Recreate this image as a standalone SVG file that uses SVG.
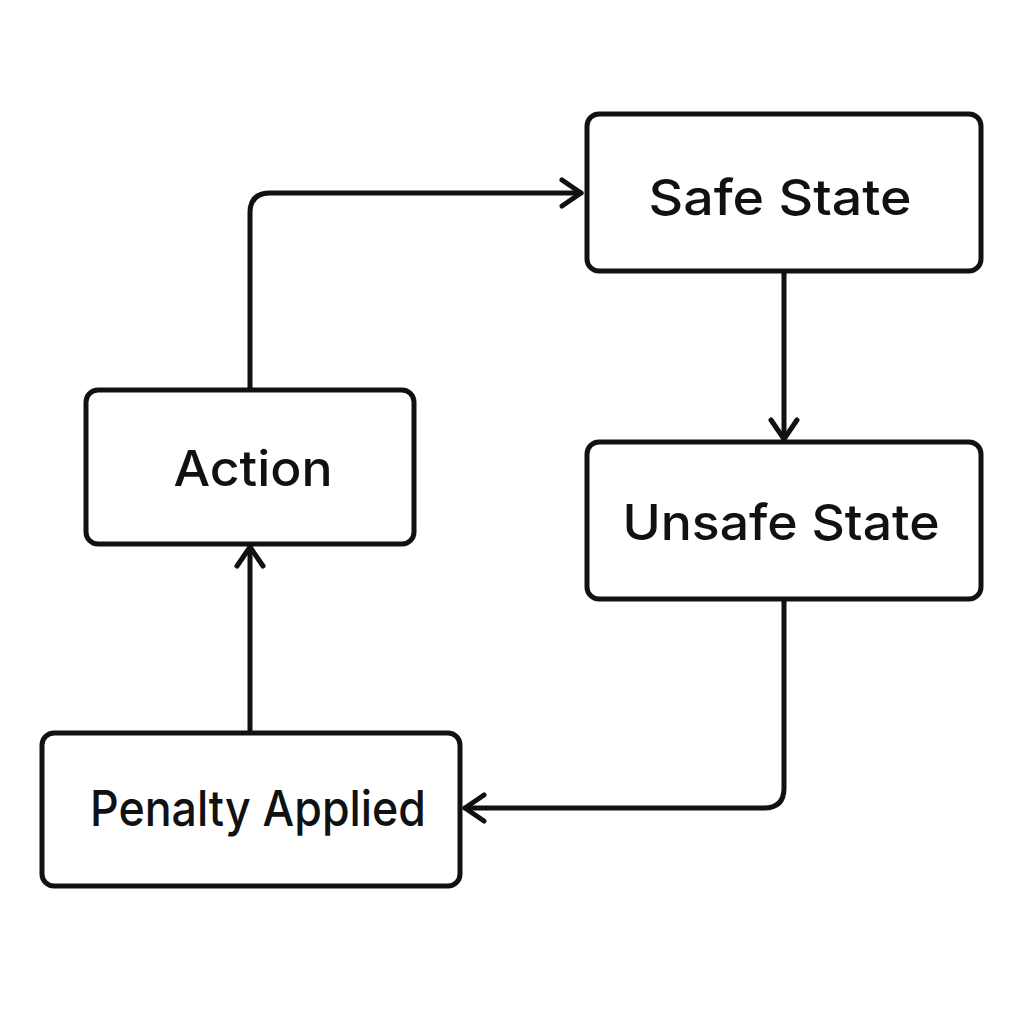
<svg xmlns="http://www.w3.org/2000/svg" width="1024" height="1024" viewBox="0 0 1024 1024">
<style>
.node rect{fill:#fff;stroke:#111;stroke-width:5}
.node text{font-family:Inter,"Liberation Sans",sans-serif;font-size:50px;font-weight:500;fill:#111;text-anchor:middle}
.conn path{fill:none;stroke:#111;stroke-width:5;stroke-linecap:round;stroke-linejoin:round}
</style>
<defs>
<marker id="arr" viewBox="0 0 30 32" refX="27" refY="16" markerWidth="30" markerHeight="32" markerUnits="userSpaceOnUse" orient="auto">
<path d="M8 3 L27 16 L8 29" fill="none" stroke="#111" stroke-width="5" stroke-linecap="round" stroke-linejoin="round"/>
</marker>
</defs>
<rect width="1024" height="1024" fill="#fff"/>
<g class="conn">
<path d="M250 390 V213 Q250 193 270 193 H581" marker-end="url(#arr)"/>
<path d="M784 271 V439" marker-end="url(#arr)"/>
<path d="M784 599 V788 Q784 808 764 808 H465" marker-end="url(#arr)"/>
<path d="M250 733 V547" marker-end="url(#arr)"/>
</g>
<g id="safe" class="node"><rect x="587" y="114" width="394" height="157" rx="12"/><text x="780" y="215" textLength="263" lengthAdjust="spacingAndGlyphs">Safe State</text></g>
<g id="action" class="node"><rect x="86" y="390" width="328" height="154" rx="12"/><text x="253" y="486" textLength="159" lengthAdjust="spacingAndGlyphs">Action</text></g>
<g id="unsafe" class="node"><rect x="587" y="442" width="394" height="157" rx="12"/><text x="781" y="540" textLength="317" lengthAdjust="spacingAndGlyphs">Unsafe State</text></g>
<g id="penalty" class="node"><rect x="42" y="733" width="418" height="153" rx="12"/><text x="258" y="826" textLength="336" lengthAdjust="spacingAndGlyphs">Penalty Applied</text></g>
</svg>
